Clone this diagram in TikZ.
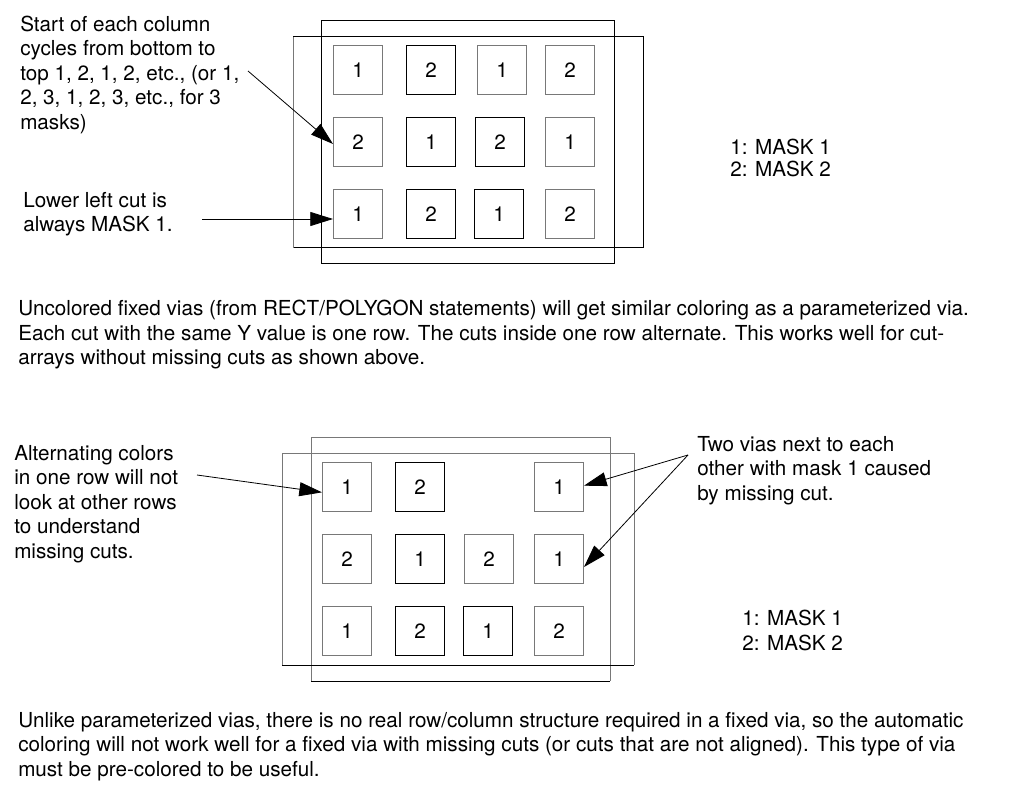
\documentclass[tikz,border=0pt]{standalone}
\usepackage{fontspec}
\setmainfont{TeX Gyre Heros}
\usetikzlibrary{arrows.meta}
\definecolor{lg}{RGB}{120,120,120}
\tikzset{
  lbl/.style={inner sep=0pt, anchor=north west, align=left, font=\fontsize{15.5}{18.4}\selectfont},
  cut/.style={draw, line width=0.75pt, minimum width=36.75pt, minimum height=36.75pt, inner sep=0pt, font=\fontsize{15.5}{18.4}\selectfont},
  gcut/.style={cut, draw=lg},
  bcut/.style={cut, draw=black},
  arr/.style={line width=0.6pt, -{Triangle[length=17pt,width=10.5pt]}},
  ol/.style={line width=0.75pt}
}
\begin{document}
\begin{tikzpicture}[x=0.75pt,y=-0.75pt]
\useasboundingbox (0,0) rectangle (1013,805);
% ---------- top diagram ----------
\draw[ol] (321,21) rectangle (614,264);
\draw[ol] (293,37) -- (643,37) -- (643,248) -- (293,248);
\draw[ol,lg] (293,37) -- (293,248);
\node[gcut] (t11) at (358,70) {1};
\node[bcut] (t12) at (431,70) {2};
\node[gcut] (t13) at (502,70) {1};
\node[gcut] (t14) at (570,70) {2};
\node[gcut] (t21) at (358,142) {2};
\node[bcut] (t22) at (431,142) {1};
\node[bcut] (t23) at (500,142) {2};
\node[gcut] (t24) at (570,142) {1};
\node[gcut] (t31) at (358,214) {1};
\node[bcut] (t32) at (431,214) {2};
\node[bcut] (t33) at (499,214) {1};
\node[gcut] (t34) at (570,214) {2};
\node[lbl] (ta) at (20,15.5) {Start of each column\\cycles from bottom to\\top 1, 2, 1, 2, etc., (or 1,\\2, 3, 1, 2, 3, etc., for 3\\masks)};
\node[lbl] (tb) at (23,192) {Lower left cut is\\always MASK 1.};
\coordinate (ca) at (248,71);
\coordinate (cb) at (202,219);
\draw[arr] (ca) -- ([yshift=-1.5pt]t21.west);
\draw[arr] (cb) -- ([yshift=-3.75pt]t31.west);
\node[lbl, font=\fontsize{15.5}{16.5}\selectfont] (tm) at (730,138.5) {1: MASK 1\\2: MASK 2};
\node[lbl] (p1) at (18,300) {Uncolored fixed vias (from RECT/POLYGON statements) will get similar coloring as a parameterized via.\\Each cut with the same Y value is one row. The cuts inside one row alternate. This works well for cut-\\arrays without missing cuts as shown above.};
% ---------- bottom diagram ----------
\draw[ol,lg] (311,681) -- (311,437) -- (610,437) -- (610,681);
\draw[ol] (311,681) -- (610,681);
\draw[ol,lg] (282,665) -- (282,453) -- (634,453) -- (634,665);
\draw[ol] (282,665) -- (634,665);
\node[gcut] (b11) at (347,487) {1};
\node[bcut] (b12) at (420,487) {2};
\node[gcut] (b14) at (559,487) {1};
\node[gcut] (b21) at (347,559) {2};
\node[bcut] (b22) at (420,559) {1};
\node[gcut] (b23) at (489,559) {2};
\node[gcut] (b24) at (559,559) {1};
\node[gcut] (b31) at (347,631) {1};
\node[bcut] (b32) at (420,631) {2};
\node[bcut] (b33) at (488,631) {1};
\node[gcut] (b34) at (559,631) {2};
\node[lbl] (ba) at (14,445) {Alternating colors\\in one row will not\\look at other rows\\to understand\\missing cuts.};
\node[lbl] (bb) at (697,436) {Two vias next to each\\other with mask 1 caused\\by missing cut.};
\coordinate (cc) at (197,475);
\coordinate (cd) at (688,455);
\draw[arr] (cc) -- ([yshift=-4pt]b11.west);
\draw[arr] (cd) -- ([yshift=1pt]b14.east);
\draw[arr] (cd) -- ([yshift=-6pt]b24.east);
\node[lbl] (bm) at (742,610) {1: MASK 1\\2: MASK 2};
\node[lbl] (p2) at (18,712) {Unlike parameterized vias, there is no real row/column structure required in a fixed via, so the automatic\\coloring will not work well for a fixed via with missing cuts (or cuts that are not aligned). This type of via\\must be pre-colored to be useful.};
\end{tikzpicture}
\end{document}
